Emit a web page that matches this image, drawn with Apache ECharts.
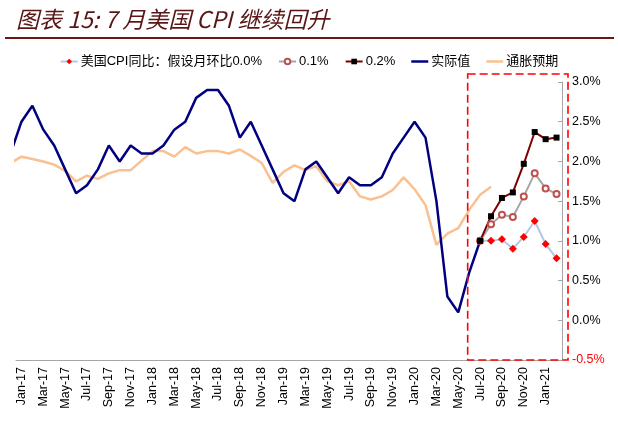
<!DOCTYPE html>
<html>
<head>
<meta charset="utf-8">
<script src="https://cdn.jsdelivr.net/npm/echarts@6/dist/echarts.min.js"></script>
<style>
  html, body { margin: 0; padding: 0; background: #fff; }
  #main { width: 618px; height: 421px; }
</style>
</head>
<body>
<div id="main"></div>
<script>
// 月份（Dec-16 只用来画出左边被裁掉的那一小段）
var months = ['Dec-16',
  'Jan-17', 'Feb-17', 'Mar-17', 'Apr-17', 'May-17', 'Jun-17', 'Jul-17', 'Aug-17', 'Sep-17', 'Oct-17', 'Nov-17', 'Dec-17',
  'Jan-18', 'Feb-18', 'Mar-18', 'Apr-18', 'May-18', 'Jun-18', 'Jul-18', 'Aug-18', 'Sep-18', 'Oct-18', 'Nov-18', 'Dec-18',
  'Jan-19', 'Feb-19', 'Mar-19', 'Apr-19', 'May-19', 'Jun-19', 'Jul-19', 'Aug-19', 'Sep-19', 'Oct-19', 'Nov-19', 'Dec-19',
  'Jan-20', 'Feb-20', 'Mar-20', 'Apr-20', 'May-20', 'Jun-20', 'Jul-20', 'Aug-20', 'Sep-20', 'Oct-20', 'Nov-20', 'Dec-20',
  'Jan-21', 'Feb-21'];

// 实际值：Dec-16 ~ Jul-20
var actualCPI = [2.1,
  2.5, 2.7, 2.4, 2.2, 1.9, 1.6, 1.7, 1.9, 2.2, 2.0, 2.2, 2.1,
  2.1, 2.2, 2.4, 2.5, 2.8, 2.9, 2.9, 2.7, 2.3, 2.5, 2.2, 1.9,
  1.6, 1.5, 1.9, 2.0, 1.8, 1.6, 1.8, 1.7, 1.7, 1.8, 2.1, 2.3,
  2.5, 2.3, 1.5, 0.3, 0.1, 0.6, 1.0];

// 通胀预期：Dec-16 ~ Aug-20
var inflationExp = [1.98,
  2.06, 2.03, 2.00, 1.96, 1.88, 1.75, 1.82, 1.78, 1.85, 1.89, 1.89, 2.01,
  2.13, 2.13, 2.06, 2.18, 2.10, 2.13, 2.13, 2.10, 2.15, 2.07, 1.98, 1.73,
  1.87, 1.95, 1.89, 1.94, 1.75, 1.70, 1.75, 1.56, 1.52, 1.56, 1.64, 1.80,
  1.65, 1.45, 0.95, 1.09, 1.16, 1.39, 1.58, 1.68];

// 假设情形：Jul-20 ~ Feb-21
var projStart = months.indexOf('Jul-20');
var mom00 = [1.0, 1.0, 1.02, 0.90, 1.05, 1.25, 0.96, 0.78];
var mom01 = [1.0, 1.21, 1.33, 1.30, 1.56, 1.85, 1.66, 1.59];
var mom02 = [1.0, 1.31, 1.54, 1.61, 1.97, 2.37, 2.28, 2.30];

var yTicks = { min: -0.5, max: 3.0, step: 0.5 };

function toPoints(values, start) {
  return values.map(function (v, i) { return [start + i, v]; });
}

var fontEn = '"Liberation Sans", Arial, "Noto Sans CJK SC", sans-serif';
var fontCn = '"Liberation Sans", "Noto Sans CJK SC", sans-serif';
var lineIcon = 'path://M0,0 L17,0 L17,2.5 L0,2.5 Z';

var chart = echarts.init(document.getElementById('main'));

chart.setOption({
  animation: false,
  title: {
    text: '图表 15: 7 月美国 CPI 继续回升',
    left: 11,
    top: 3,
    textStyle: {
      fontSize: 23,
      fontStyle: 'italic',
      fontWeight: 'normal',
      color: '#5a1616',
      fontFamily: '"Noto Sans CJK SC", sans-serif'
    }
  },
  legend: {
    top: 50,
    left: 'center',
    itemWidth: 17,
    itemHeight: 7,
    itemGap: 16,
    textStyle: { fontSize: 13, color: '#000', fontFamily: fontCn, padding: [0, 0, 0, -2] },
    data: [
      '美国CPI同比：假设月环比0.0%',
      '0.1%',
      '0.2%',
      { name: '实际值', icon: lineIcon },
      { name: '通胀预期', icon: lineIcon }
    ]
  },
  grid: { left: 16, right: 56, top: 82, bottom: 61 },
  xAxis: [{
    type: 'category',
    data: months.slice(1),
    boundaryGap: true,
    axisLine: { onZero: false, lineStyle: { color: '#a6a6a6' } },
    axisTick: { interval: 1, length: 4, lineStyle: { color: '#a6a6a6' } },
    axisLabel: {
      interval: 1,
      rotate: 90,
      margin: 7,
      fontSize: 12.5,
      color: '#000',
      fontFamily: fontEn
    }
  }, {
    type: 'value',
    min: 0.5,
    max: months.length - 0.5,
    show: false
  }],
  yAxis: {
    type: 'value',
    position: 'right',
    min: yTicks.min,
    max: yTicks.max,
    interval: yTicks.step,
    splitLine: { show: false },
    axisLine: { show: true, lineStyle: { color: '#a6a6a6' } },
    axisTick: { show: true, inside: true, length: 4, lineStyle: { color: '#a6a6a6' } },
    axisLabel: {
      margin: 10,
      fontSize: 12.5,
      color: '#000',
      fontFamily: fontEn,
      formatter: function (v) {
        var s = v.toFixed(1) + '%';
        return v < 0 ? '{neg|' + s + '}' : s;
      },
      rich: { neg: { color: '#ff0000', fontSize: 12.5, fontFamily: fontEn } }
    }
  },
  series: [{
    name: '通胀预期',
    type: 'line',
    xAxisIndex: 1,
    data: toPoints(inflationExp, 0),
    symbol: 'none',
    lineStyle: { color: '#fac090', width: 2.5 },
    itemStyle: { color: '#fac090' }
  }, {
    name: '实际值',
    type: 'line',
    xAxisIndex: 1,
    data: toPoints(actualCPI, 0),
    symbol: 'none',
    lineStyle: { color: '#000080', width: 2.5 },
    itemStyle: { color: '#000080' }
  }, {
    name: '美国CPI同比：假设月环比0.0%',
    type: 'line',
    xAxisIndex: 1,
    data: toPoints(mom00, projStart),
    symbol: 'diamond',
    symbolSize: 8,
    lineStyle: { color: '#b4c7e7', width: 2 },
    itemStyle: { color: '#ff0000' }
  }, {
    name: '0.1%',
    type: 'line',
    xAxisIndex: 1,
    data: toPoints(mom01, projStart),
    symbol: 'emptyCircle',
    symbolSize: 6,
    lineStyle: { color: '#a6a6a6', width: 2 },
    itemStyle: { color: '#c0504d', borderWidth: 1.2 }
  }, {
    name: '0.2%',
    type: 'line',
    xAxisIndex: 1,
    data: toPoints(mom02, projStart),
    symbol: 'rect',
    symbolSize: 6,
    lineStyle: { color: '#800000', width: 2 },
    itemStyle: { color: '#000' }
  }]
});

// 标题下划线和右侧红色虚线框
var boxLeft = chart.convertToPixel({ xAxisIndex: 1 }, months.indexOf('Jun-20')) - 1.5;
var boxRight = chart.convertToPixel({ xAxisIndex: 1 }, months.length - 0.5) + 6;
var boxTop = chart.convertToPixel({ yAxisIndex: 0 }, yTicks.max) - 8;
var boxBottom = chart.convertToPixel({ yAxisIndex: 0 }, yTicks.min);

chart.setOption({
  graphic: [{
    type: 'line',
    shape: { x1: 5, y1: 38, x2: 614, y2: 38 },
    style: { stroke: '#6d1414', lineWidth: 2 }
  }, {
    type: 'rect',
    z: 100,
    shape: { x: boxLeft, y: boxTop, width: boxRight - boxLeft, height: boxBottom - boxTop },
    style: { fill: 'none', stroke: '#ff0000', lineWidth: 1.6, lineDash: [8, 4] }
  }]
});
</script>
</body>
</html>
